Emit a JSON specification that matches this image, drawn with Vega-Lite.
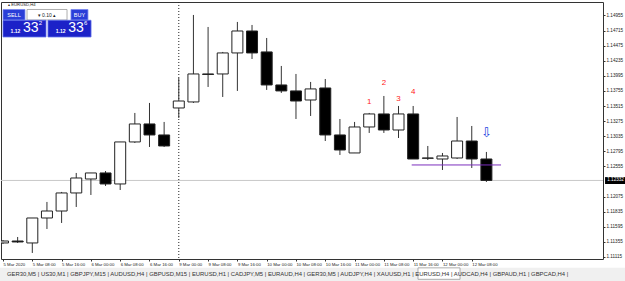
{
  "$schema": "https://vega.github.io/schema/vega-lite/v6.json",
  "width": 602,
  "height": 257,
  "autosize": {"type": "none"},
  "padding": {"left": 1, "top": 2, "right": 22, "bottom": 22},
  "background": "white",
  "config": {
    "view": {"stroke": "#333333", "strokeWidth": 1},
    "font": "Liberation Sans",
    "scale": {"continuousPadding": 0}
  },
  "resolve": {"axis": {"x": "independent", "y": "independent"}},
  "datasets": {
    "candles": [
      {"i": 0, "o": 1.11338, "h": 1.11385, "l": 1.11322, "c": 1.11369},
      {"i": 1, "o": 1.11369, "h": 1.11433, "l": 1.11338, "c": 1.11354},
      {"i": 2, "o": 1.11338, "h": 1.11735, "l": 1.11179, "c": 1.11735},
      {"i": 3, "o": 1.11735, "h": 1.11990, "l": 1.11560, "c": 1.11846},
      {"i": 4, "o": 1.11846, "h": 1.12149, "l": 1.11656, "c": 1.12133},
      {"i": 5, "o": 1.12133, "h": 1.12451, "l": 1.11910, "c": 1.12371},
      {"i": 6, "o": 1.12355, "h": 1.12451, "l": 1.12101, "c": 1.12451},
      {"i": 7, "o": 1.12451, "h": 1.12482, "l": 1.12244, "c": 1.12276},
      {"i": 8, "o": 1.12276, "h": 1.12944, "l": 1.12180, "c": 1.12944},
      {"i": 9, "o": 1.12944, "h": 1.13405, "l": 1.12928, "c": 1.13230},
      {"i": 10, "o": 1.13230, "h": 1.13564, "l": 1.12864, "c": 1.13055},
      {"i": 11, "o": 1.13055, "h": 1.13262, "l": 1.12864, "c": 1.12880},
      {"i": 12, "o": 1.13484, "h": 1.13961, "l": 1.13325, "c": 1.13595},
      {"i": 13, "o": 1.13580, "h": 1.14963, "l": 1.13564, "c": 1.14025},
      {"i": 14, "o": 1.14025, "h": 1.14772, "l": 1.13818, "c": 1.14017},
      {"i": 15, "o": 1.14025, "h": 1.14375, "l": 1.13659, "c": 1.14359},
      {"i": 16, "o": 1.14359, "h": 1.14852, "l": 1.13755, "c": 1.14708},
      {"i": 17, "o": 1.14708, "h": 1.14804, "l": 1.14263, "c": 1.14359},
      {"i": 18, "o": 1.14375, "h": 1.14597, "l": 1.13771, "c": 1.13850},
      {"i": 19, "o": 1.13850, "h": 1.14152, "l": 1.13723, "c": 1.13755},
      {"i": 20, "o": 1.13755, "h": 1.14025, "l": 1.13309, "c": 1.13595},
      {"i": 21, "o": 1.13611, "h": 1.13898, "l": 1.13357, "c": 1.13787},
      {"i": 22, "o": 1.13802, "h": 1.13945, "l": 1.12959, "c": 1.13055},
      {"i": 23, "o": 1.13055, "h": 1.13309, "l": 1.12737, "c": 1.12816},
      {"i": 24, "o": 1.12769, "h": 1.13262, "l": 1.12769, "c": 1.13182},
      {"i": 25, "o": 1.13182, "h": 1.13405, "l": 1.13087, "c": 1.13389},
      {"i": 26, "o": 1.13389, "h": 1.13675, "l": 1.13087, "c": 1.13134},
      {"i": 27, "o": 1.13134, "h": 1.13516, "l": 1.13007, "c": 1.13389},
      {"i": 28, "o": 1.13389, "h": 1.13516, "l": 1.12673, "c": 1.12673},
      {"i": 29, "o": 1.12689, "h": 1.12880, "l": 1.12657, "c": 1.12685},
      {"i": 30, "o": 1.12673, "h": 1.12769, "l": 1.12498, "c": 1.12721},
      {"i": 31, "o": 1.12689, "h": 1.13341, "l": 1.12673, "c": 1.12959},
      {"i": 32, "o": 1.12959, "h": 1.13198, "l": 1.12530, "c": 1.12673},
      {"i": 33, "o": 1.12673, "h": 1.12785, "l": 1.12308, "c": 1.12332}
    ],
    "notes": [
      {"i": 25, "p": 1.13580, "txt": "1"},
      {"i": 26, "p": 1.13882, "txt": "2"},
      {"i": 27, "p": 1.13627, "txt": "3"},
      {"i": 28, "p": 1.13738, "txt": "4"}
    ]
  },
  "layer": [
    {
      "data": {"values": [{}]},
      "mark": {"type": "rect", "color": "#f0f0f0", "clip": false},
      "encoding": {
        "x": {"datum": -0.3, "type": "quantitative", "scale": {"domain": [-0.137, 40.96], "nice": false, "zero": false, "padding": 0}, "axis": null},
        "x2": {"datum": 43},
        "y": {"datum": 1.10942, "type": "quantitative", "scale": {"domain": [1.11083, 1.15169], "nice": false, "zero": false, "padding": 0}, "axis": null},
        "y2": {"datum": 1.10700}
      }
    },
    {
      "data": {"values": [{}]},
      "mark": {"type": "rect", "color": "white", "stroke": "#9a9a9a", "strokeWidth": 0.8},
      "encoding": {
        "x": {"datum": 28.33, "type": "quantitative", "scale": {"domain": [-0.137, 40.96], "nice": false, "zero": false, "padding": 0}, "axis": null},
        "x2": {"datum": 31.2},
        "y": {"datum": 1.10942, "type": "quantitative", "scale": {"domain": [1.11083, 1.15169], "nice": false, "zero": false, "padding": 0}, "axis": null},
        "y2": {"datum": 1.10760}
      }
    },
    {
      "data": {"values": [{}]},
      "mark": {"type": "text", "align": "left", "baseline": "middle", "fontSize": 5.9, "color": "#333333", "font": "Liberation Sans"},
      "encoding": {
        "x": {"datum": 0.27, "type": "quantitative", "scale": {"domain": [-0.137, 40.96], "nice": false, "zero": false, "padding": 0}, "axis": null},
        "y": {"datum": 1.10845, "type": "quantitative", "scale": {"domain": [1.11083, 1.15169], "nice": false, "zero": false, "padding": 0}, "axis": null},
        "text": {"value": "GER30,M5   |   US30,M1   |   GBPJPY,M15   |   AUDUSD,H4   |   GBPUSD,M15   |   EURUSD,H1   |   CADJPY,M5   |   EURAUD,H4   |   GER30,M5   |   AUDJPY,H4   |   XAUUSD,H1   |   EURUSD,H4   |   AUDCAD,H4   |   GBPAUD,H1   |   GBPCAD,H4   |"}
      }
    },
    {
      "data": {"values": [{}]},
      "mark": {"type": "rule", "color": "#c8c8c8", "strokeWidth": 1},
      "encoding": {
        "y": {"datum": 1.12332, "type": "quantitative", "scale": {"domain": [1.11083, 1.15169], "nice": false, "zero": false, "padding": 0}, "axis": null}
      }
    },
    {
      "data": {"values": [{}]},
      "mark": {"type": "rule", "color": "#222222", "strokeWidth": 1, "strokeDash": [1, 2]},
      "encoding": {
        "x": {"datum": 12, "type": "quantitative", "scale": {"domain": [-0.137, 40.96], "nice": false, "zero": false, "padding": 0}, "axis": null}
      }
    },
    {
      "data": {"name": "candles"},
      "mark": {"type": "rule", "color": "#333333", "strokeWidth": 1, "clip": true},
      "encoding": {
        "x": {
          "field": "i", "type": "quantitative",
          "scale": {"domain": [-0.137, 40.96], "nice": false, "zero": false, "padding": 0},
          "axis": {
            "values": [0, 2, 4, 6, 8, 10, 12, 14, 16, 18, 20, 22, 24, 26, 28, 30, 32],
            "labelExpr": "['5 Mar 2020','5 Mar 08:00','5 Mar 16:00','6 Mar 00:00','6 Mar 08:00','6 Mar 16:00','9 Mar 00:00','9 Mar 08:00','9 Mar 16:00','10 Mar 00:00','10 Mar 08:00','10 Mar 16:00','11 Mar 00:00','11 Mar 08:00','11 Mar 16:00','12 Mar 00:00','12 Mar 08:00'][round(datum.value/2)]",
            "labelAlign": "left",
            "labelDx": -2,
            "labelFontSize": 4.3,
            "labelColor": "#222222",
            "labelPadding": 1,
            "labelOverlap": false,
            "labelFlush": false,
            "labelBound": false,
            "tickSize": 2,
            "tickColor": "#333333",
            "domain": false,
            "grid": false,
            "title": null
          }
        },
        "y": {
          "field": "l", "type": "quantitative",
          "scale": {"domain": [1.11083, 1.15169], "nice": false, "zero": false, "padding": 0},
          "axis": {
            "orient": "right",
            "values": [1.11115, 1.11355, 1.11595, 1.11835, 1.12075, 1.12555, 1.12795, 1.13035, 1.13275, 1.13515, 1.13755, 1.13995, 1.14235, 1.14475, 1.14715, 1.14955],
            "format": ".5f",
            "labelFontSize": 4.6,
            "labelColor": "#222222",
            "labelPadding": 1,
            "labelOverlap": false,
            "labelBound": false,
            "tickSize": 2,
            "tickColor": "#333333",
            "domain": false,
            "grid": false,
            "title": null
          }
        },
        "y2": {"field": "h"}
      }
    },
    {
      "data": {"name": "candles"},
      "mark": {"type": "bar", "orient": "vertical", "size": 11, "stroke": "#222222", "strokeWidth": 1, "clip": true},
      "encoding": {
        "x": {"field": "i", "type": "quantitative", "scale": {"domain": [-0.137, 40.96], "nice": false, "zero": false, "padding": 0}, "axis": null},
        "y": {"field": "o", "type": "quantitative", "scale": {"domain": [1.11083, 1.15169], "nice": false, "zero": false, "padding": 0}, "axis": null},
        "y2": {"field": "c"},
        "fill": {"condition": {"test": "datum.c > datum.o", "value": "white"}, "value": "black"}
      }
    },
    {
      "data": {"values": [{}]},
      "mark": {"type": "rule", "color": "#7b2fbe", "strokeWidth": 1},
      "encoding": {
        "x": {"datum": 27.9, "type": "quantitative", "scale": {"domain": [-0.137, 40.96], "nice": false, "zero": false, "padding": 0}, "axis": null},
        "x2": {"datum": 34},
        "y": {"datum": 1.12578, "type": "quantitative", "scale": {"domain": [1.11083, 1.15169], "nice": false, "zero": false, "padding": 0}, "axis": null}
      }
    },
    {
      "data": {"name": "notes"},
      "mark": {"type": "text", "color": "#ff1a1a", "fontSize": 8, "font": "Liberation Sans", "baseline": "middle"},
      "encoding": {
        "x": {"field": "i", "type": "quantitative", "scale": {"domain": [-0.137, 40.96], "nice": false, "zero": false, "padding": 0}, "axis": null},
        "y": {"field": "p", "type": "quantitative", "scale": {"domain": [1.11083, 1.15169], "nice": false, "zero": false, "padding": 0}, "axis": null},
        "text": {"field": "txt"}
      }
    },
    {
      "data": {"values": [{}]},
      "mark": {"type": "text", "color": "#2040e0", "fontSize": 13, "font": "DejaVu Sans", "baseline": "middle"},
      "encoding": {
        "x": {"datum": 33, "type": "quantitative", "scale": {"domain": [-0.137, 40.96], "nice": false, "zero": false, "padding": 0}, "axis": null},
        "y": {"datum": 1.13087, "type": "quantitative", "scale": {"domain": [1.11083, 1.15169], "nice": false, "zero": false, "padding": 0}, "axis": null},
        "text": {"value": "⇩"}
      }
    },
    {
      "data": {"values": [{}]},
      "mark": {"type": "rect", "color": "black"},
      "encoding": {
        "x": {"datum": 41.1, "type": "quantitative", "scale": {"domain": [-0.137, 40.96], "nice": false, "zero": false, "padding": 0}, "axis": null},
        "x2": {"datum": 42.5},
        "y": {"datum": 1.12385, "type": "quantitative", "scale": {"domain": [1.11083, 1.15169], "nice": false, "zero": false, "padding": 0}, "axis": null},
        "y2": {"datum": 1.12275}
      }
    },
    {
      "data": {"values": [{}]},
      "mark": {"type": "text", "color": "white", "fontSize": 4.6, "align": "left", "baseline": "middle"},
      "encoding": {
        "x": {"datum": 41.25, "type": "quantitative", "scale": {"domain": [-0.137, 40.96], "nice": false, "zero": false, "padding": 0}, "axis": null},
        "y": {"datum": 1.12332, "type": "quantitative", "scale": {"domain": [1.11083, 1.15169], "nice": false, "zero": false, "padding": 0}, "axis": null},
        "text": {"value": "1.12332"}
      }
    },
    {
      "data": {"values": [{}]},
      "mark": {"type": "text", "color": "#222222", "fontSize": 4.2, "align": "left", "baseline": "middle"},
      "encoding": {
        "x": {"datum": 0.35, "type": "quantitative", "scale": {"domain": [-0.137, 40.96], "nice": false, "zero": false, "padding": 0}, "axis": null},
        "y": {"datum": 1.15121, "type": "quantitative", "scale": {"domain": [1.11083, 1.15169], "nice": false, "zero": false, "padding": 0}, "axis": null},
        "text": {"value": "▴ EURUSD,H4"}
      }
    },
    {
      "data": {"values": [{}]},
      "mark": {"type": "rect", "color": "#2a3ed8", "stroke": "#7a88f0", "strokeWidth": 0.8},
      "encoding": {
        "x": {"datum": 0.0, "type": "quantitative", "scale": {"domain": [-0.137, 40.96], "nice": false, "zero": false, "padding": 0}, "axis": null},
        "x2": {"datum": 1.5},
        "y": {"datum": 1.15050, "type": "quantitative", "scale": {"domain": [1.11083, 1.15169], "nice": false, "zero": false, "padding": 0}, "axis": null},
        "y2": {"datum": 1.14883}
      }
    },
    {
      "data": {"values": [{}]},
      "mark": {"type": "rect", "color": "white", "stroke": "#9a9a9a", "strokeWidth": 0.8},
      "encoding": {
        "x": {"datum": 1.64, "type": "quantitative", "scale": {"domain": [-0.137, 40.96], "nice": false, "zero": false, "padding": 0}, "axis": null},
        "x2": {"datum": 4.37},
        "y": {"datum": 1.15050, "type": "quantitative", "scale": {"domain": [1.11083, 1.15169], "nice": false, "zero": false, "padding": 0}, "axis": null},
        "y2": {"datum": 1.14883}
      }
    },
    {
      "data": {"values": [{}]},
      "mark": {"type": "rect", "color": "#2a3ed8", "stroke": "#7a88f0", "strokeWidth": 0.8},
      "encoding": {
        "x": {"datum": 4.64, "type": "quantitative", "scale": {"domain": [-0.137, 40.96], "nice": false, "zero": false, "padding": 0}, "axis": null},
        "x2": {"datum": 5.8},
        "y": {"datum": 1.15050, "type": "quantitative", "scale": {"domain": [1.11083, 1.15169], "nice": false, "zero": false, "padding": 0}, "axis": null},
        "y2": {"datum": 1.14883}
      }
    },
    {
      "data": {"values": [{}]},
      "mark": {"type": "rect", "color": "#1c22c8", "stroke": "#6070e8", "strokeWidth": 0.8},
      "encoding": {
        "x": {"datum": 0.0, "type": "quantitative", "scale": {"domain": [-0.137, 40.96], "nice": false, "zero": false, "padding": 0}, "axis": null},
        "x2": {"datum": 2.935},
        "y": {"datum": 1.14878, "type": "quantitative", "scale": {"domain": [1.11083, 1.15169], "nice": false, "zero": false, "padding": 0}, "axis": null},
        "y2": {"datum": 1.14613}
      }
    },
    {
      "data": {"values": [{}]},
      "mark": {"type": "rect", "color": "#1c22c8", "stroke": "#6070e8", "strokeWidth": 0.8},
      "encoding": {
        "x": {"datum": 3.07, "type": "quantitative", "scale": {"domain": [-0.137, 40.96], "nice": false, "zero": false, "padding": 0}, "axis": null},
        "x2": {"datum": 6.01},
        "y": {"datum": 1.14878, "type": "quantitative", "scale": {"domain": [1.11083, 1.15169], "nice": false, "zero": false, "padding": 0}, "axis": null},
        "y2": {"datum": 1.14613}
      }
    },
    {
      "data": {"values": [{}]},
      "mark": {"type": "text", "color": "white", "fontSize": 5.5, "baseline": "middle"},
      "encoding": {
        "x": {"datum": 0.75, "type": "quantitative", "scale": {"domain": [-0.137, 40.96], "nice": false, "zero": false, "padding": 0}, "axis": null},
        "y": {"datum": 1.14965, "type": "quantitative", "scale": {"domain": [1.11083, 1.15169], "nice": false, "zero": false, "padding": 0}, "axis": null},
        "text": {"value": "SELL"}
      }
    },
    {
      "data": {"values": [{}]},
      "mark": {"type": "text", "color": "#222222", "fontSize": 5, "baseline": "middle"},
      "encoding": {
        "x": {"datum": 3.0, "type": "quantitative", "scale": {"domain": [-0.137, 40.96], "nice": false, "zero": false, "padding": 0}, "axis": null},
        "y": {"datum": 1.14965, "type": "quantitative", "scale": {"domain": [1.11083, 1.15169], "nice": false, "zero": false, "padding": 0}, "axis": null},
        "text": {"value": "▾          0.10      ▴"}
      }
    },
    {
      "data": {"values": [{}]},
      "mark": {"type": "text", "color": "white", "fontSize": 5.5, "baseline": "middle"},
      "encoding": {
        "x": {"datum": 5.22, "type": "quantitative", "scale": {"domain": [-0.137, 40.96], "nice": false, "zero": false, "padding": 0}, "axis": null},
        "y": {"datum": 1.14965, "type": "quantitative", "scale": {"domain": [1.11083, 1.15169], "nice": false, "zero": false, "padding": 0}, "axis": null},
        "text": {"value": "BUY"}
      }
    },
    {
      "data": {"values": [{}]},
      "mark": {"type": "text", "color": "white", "fontSize": 5, "fontWeight": "bold", "baseline": "middle"},
      "encoding": {
        "x": {"datum": 0.85, "type": "quantitative", "scale": {"domain": [-0.137, 40.96], "nice": false, "zero": false, "padding": 0}, "axis": null},
        "y": {"datum": 1.14700, "type": "quantitative", "scale": {"domain": [1.11083, 1.15169], "nice": false, "zero": false, "padding": 0}, "axis": null},
        "text": {"value": "1.12"}
      }
    },
    {
      "data": {"values": [{}]},
      "mark": {"type": "text", "color": "white", "fontSize": 5, "fontWeight": "bold", "baseline": "middle"},
      "encoding": {
        "x": {"datum": 3.93, "type": "quantitative", "scale": {"domain": [-0.137, 40.96], "nice": false, "zero": false, "padding": 0}, "axis": null},
        "y": {"datum": 1.14700, "type": "quantitative", "scale": {"domain": [1.11083, 1.15169], "nice": false, "zero": false, "padding": 0}, "axis": null},
        "text": {"value": "1.12"}
      }
    },
    {
      "data": {"values": [{}]},
      "mark": {"type": "text", "color": "white", "fontSize": 14, "baseline": "middle"},
      "encoding": {
        "x": {"datum": 1.9, "type": "quantitative", "scale": {"domain": [-0.137, 40.96], "nice": false, "zero": false, "padding": 0}, "axis": null},
        "y": {"datum": 1.14750, "type": "quantitative", "scale": {"domain": [1.11083, 1.15169], "nice": false, "zero": false, "padding": 0}, "axis": null},
        "text": {"value": "33"}
      }
    },
    {
      "data": {"values": [{}]},
      "mark": {"type": "text", "color": "white", "fontSize": 14, "baseline": "middle"},
      "encoding": {
        "x": {"datum": 4.98, "type": "quantitative", "scale": {"domain": [-0.137, 40.96], "nice": false, "zero": false, "padding": 0}, "axis": null},
        "y": {"datum": 1.14750, "type": "quantitative", "scale": {"domain": [1.11083, 1.15169], "nice": false, "zero": false, "padding": 0}, "axis": null},
        "text": {"value": "33"}
      }
    },
    {
      "data": {"values": [{}]},
      "mark": {"type": "text", "color": "white", "fontSize": 6, "baseline": "middle"},
      "encoding": {
        "x": {"datum": 2.55, "type": "quantitative", "scale": {"domain": [-0.137, 40.96], "nice": false, "zero": false, "padding": 0}, "axis": null},
        "y": {"datum": 1.14830, "type": "quantitative", "scale": {"domain": [1.11083, 1.15169], "nice": false, "zero": false, "padding": 0}, "axis": null},
        "text": {"value": "2"}
      }
    },
    {
      "data": {"values": [{}]},
      "mark": {"type": "text", "color": "white", "fontSize": 6, "baseline": "middle"},
      "encoding": {
        "x": {"datum": 5.65, "type": "quantitative", "scale": {"domain": [-0.137, 40.96], "nice": false, "zero": false, "padding": 0}, "axis": null},
        "y": {"datum": 1.14830, "type": "quantitative", "scale": {"domain": [1.11083, 1.15169], "nice": false, "zero": false, "padding": 0}, "axis": null},
        "text": {"value": "6"}
      }
    }
  ]
}
